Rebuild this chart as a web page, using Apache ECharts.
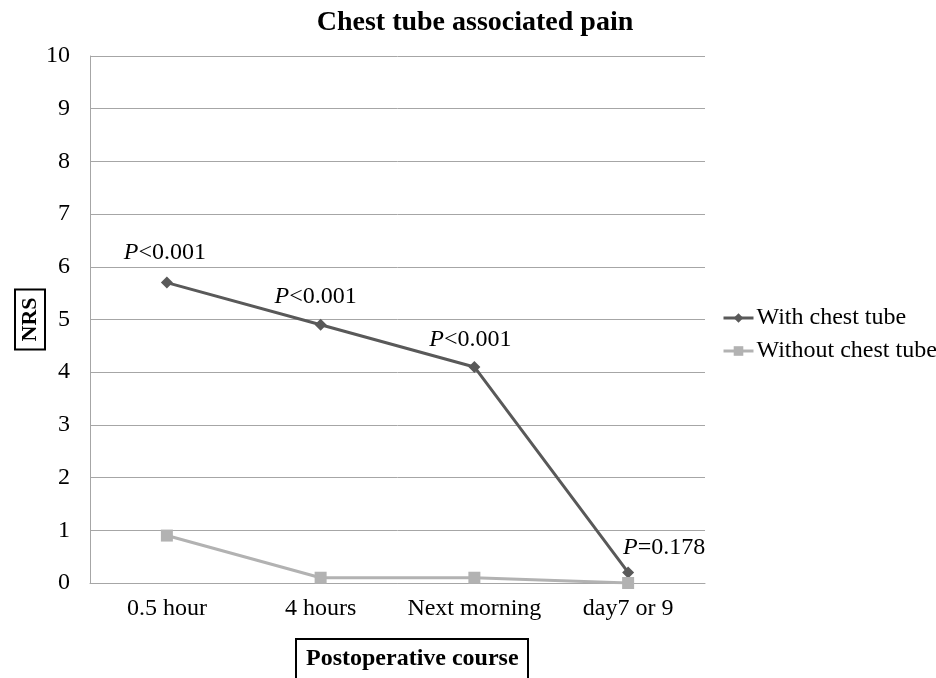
<!DOCTYPE html>
<html>
<head>
<meta charset="utf-8">
<script src="https://cdn.jsdelivr.net/npm/echarts@6/dist/echarts.min.js"></script>
<style>
  html, body { margin: 0; padding: 0; background: #fff; }
  #chart { width: 936px; height: 678px; }
</style>
</head>
<body>
<div id="chart"></div>
<script>
// data
const categories = ['0.5 hour', '4 hours', 'Next morning', 'day7 or 9'];
const withTube = [5.7, 4.9, 4.1, 0.2];
const withoutTube = [0.9, 0.1, 0.1, 0.0];
const pSign = ['<', '<', '<', '='];
const pValue = ['0.001', '0.001', '0.001', '0.178'];

const serif = 'Liberation Serif';

const chart = echarts.init(document.getElementById('chart'));

// P-value labels above the "with chest tube" points
const labelOffsets = [[-2, 0], [-5, 2], [-4, 3], [36, 5]];
const withData = withTube.map((v, i) => ({
  value: v,
  label: {
    show: true,
    position: 'top',
    distance: 12,
    offset: labelOffsets[i],
    formatter: '{i|P}{n|' + pSign[i] + pValue[i] + '}'
  }
}));

chart.setOption({
  animation: false,
  title: [
    {
      text: 'Chest tube associated pain',
      left: 470,
      top: 4,
      textAlign: 'center',
      textStyle: { fontFamily: serif, fontSize: 28, fontWeight: 'bold', color: '#000' }
    },
    {
      // x axis name in a box
      text: 'Postoperative course',
      left: 296,
      top: 639,
      padding: [8, 10, 8, 10],
      borderColor: '#000',
      borderWidth: 2,
      textStyle: { fontFamily: serif, fontSize: 24, fontWeight: 'bold', color: '#000' }
    }
  ],
  grid: { left: 90, right: 231, top: 56, bottom: 95, outerBoundsMode: 'none' },
  legend: {
    orient: 'vertical',
    left: 717,
    top: 301,
    itemWidth: 30,
    itemHeight: 12,
    itemGap: 9,
    data: ['With chest tube', 'Without chest tube'],
    lineStyle: { width: 3 },
    textStyle: { fontFamily: serif, fontSize: 24, color: '#000', padding: [0, 0, 0, -2] }
  },
  xAxis: {
    type: 'category',
    data: categories,
    boundaryGap: true,
    axisLine: { lineStyle: { color: '#a6a6a6', width: 1 } },
    axisTick: { show: false },
    axisLabel: { interval: 0, fontFamily: serif, fontSize: 24, color: '#000', margin: 14 }
  },
  yAxis: {
    type: 'value',
    min: 0,
    max: 10,
    interval: 1,
    axisLine: { show: true, lineStyle: { color: '#a6a6a6', width: 1 } },
    axisTick: { show: false },
    splitLine: { lineStyle: { color: '#a6a6a6', width: 1 } },
    axisLabel: { fontFamily: serif, fontSize: 24, color: '#000', margin: 20 },
    name: 'NRS',
    nameLocation: 'middle',
    nameGap: 45,
    nameRotate: 90,
    nameMoveOverlap: false,
    nameTextStyle: {
      fontFamily: serif, fontSize: 22, fontWeight: 'bold', color: '#000',
      borderColor: '#000', borderWidth: 2, padding: [4, 8, 4, 8]
    }
  },
  series: [
    {
      name: 'With chest tube',
      type: 'line',
      data: withData,
      symbol: 'diamond',
      symbolSize: 12,
      itemStyle: { color: '#595959' },
      lineStyle: { color: '#595959', width: 3 },
      label: {
        rich: {
          i: { fontFamily: serif, fontSize: 24, fontStyle: 'italic', color: '#000' },
          n: { fontFamily: serif, fontSize: 24, color: '#000' }
        }
      },
      z: 3
    },
    {
      name: 'Without chest tube',
      type: 'line',
      data: withoutTube,
      symbol: 'rect',
      symbolSize: 12,
      itemStyle: { color: '#b2b2b2' },
      lineStyle: { color: '#b2b2b2', width: 3 },
      z: 4
    }
  ]
});
</script>
</body>
</html>
